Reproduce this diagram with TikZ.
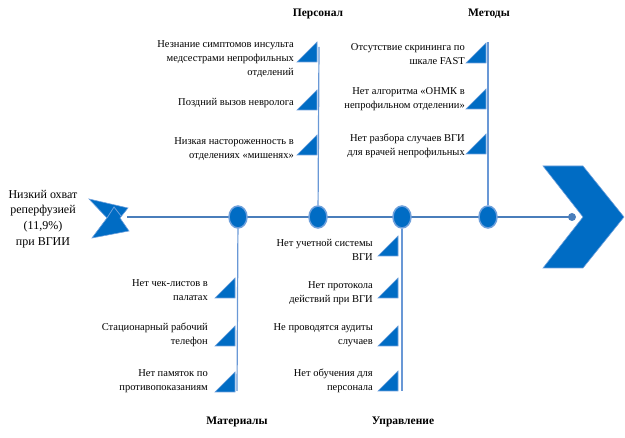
\documentclass[tikz,border=0pt]{standalone}
\usepackage{fontspec}
\setmainfont{Liberation Serif}
\usetikzlibrary{shapes.geometric}
\definecolor{spine}{RGB}{74,126,187}
\definecolor{branch}{RGB}{105,152,214}
\definecolor{dblue}{RGB}{0,108,196}
\definecolor{lblue}{RGB}{110,160,220}
\tikzset{
 item/.style={anchor=east, align=right, inner sep=0pt, font=\fontsize{10.5}{14}\selectfont},
 cat/.style={font=\fontsize{11.5}{14}\selectfont\bfseries, inner sep=0pt},
 bone/.style={draw=spine, line width=2.5pt},
 rib/.style={draw=branch, line width=1.2pt},
 joint/.style={ellipse, fill=dblue, draw=lblue, line width=1.5pt, minimum width=18pt, minimum height=22pt, inner sep=0pt},
 flag/.style={fill=dblue, draw=lblue, line width=0.6pt},
 shapefill/.style={fill=dblue, draw=lblue, line width=0.6pt},
}
\newcommand{\flagtri}[2]{\path[flag] (#1-20,#2) -- (#1,#2-20) -- (#1,#2) -- cycle;}
\begin{document}
\begin{tikzpicture}[x=1pt,y=-1pt]
\useasboundingbox (0,0) rectangle (625,438);
% head (effect side) and tail
\path[shapefill] (89,199) -- (128,208) -- (120,218) -- (129,231) -- (92,238) -- (107,218) -- cycle;
\draw[lblue, line width=0.8pt] (107,218) -- (114,207) -- (121,216);
\path[shapefill] (543,166) -- (583,166) -- (624,217) -- (583,268) -- (543,268) -- (583,217) -- cycle;
% spine
\coordinate (head) at (127,217);
\node[circle, fill=spine, minimum size=8pt, inner sep=0pt] (dot) at (572,217) {};
\draw[bone] (head) -- (dot.center);
% joints
\node[joint] (jMat) at (238,217) {};
\node[joint] (jPer) at (318,217) {};
\node[joint] (jUpr) at (402,217) {};
\node[joint] (jMet) at (488,217) {};
% branch ends
\coordinate (tPer) at (319,47);
\coordinate (tMet) at (488,42);
\coordinate (tMat) at (237,391);
\coordinate (tUpr) at (402,391);
\draw[rib] (jPer) -- (tPer);
\draw[rib] (jMet) -- (tMet);
\draw[rib] (jMat) -- (tMat);
\draw[rib] (jUpr) -- (tUpr);
% effect text
\node[font=\fontsize{12}{15.7}\selectfont, align=center, inner sep=0pt] (effect) at (43,219) {Низкий охват\\реперфузией\\(11,9\%)\\при ВГИИ};
% category headers
\node[cat] (hPer) at (318,14) {Персонал};
\node[cat] (hMet) at (489,14) {Методы};
\node[cat] (hMat) at (237,422) {Материалы};
\node[cat] (hUpr) at (403,422) {Управление};
% Персонал
\flagtri{317}{62}
\flagtri{317}{110}
\flagtri{317}{155}
\node[item] (p1) at (294,59) {Незнание симптомов инсульта\\медсестрами непрофильных\\отделений};
\node[item] (p2) at (294,103) {Поздний вызов невролога};
\node[item] (p3) at (294,149) {Низкая настороженность в\\отделениях «мишенях»};
% Методы
\flagtri{486}{63}
\flagtri{486}{109}
\flagtri{486}{154}
\node[item] (m1) at (465,54) {Отсутствие скрининга по\\шкале FAST};
\node[item] (m2) at (465,99) {Нет алгоритма «ОНМК в\\непрофильном отделении»};
\node[item] (m3) at (465,146) {Нет разбора случаев ВГИ\\для врачей непрофильных};
% Материалы
\flagtri{235}{298}
\flagtri{235}{346}
\flagtri{235}{392}
\node[item] (a1) at (208,290) {Нет чек-листов в\\палатах};
\node[item] (a2) at (208,335) {Стационарный рабочий\\телефон};
\node[item] (a3) at (208,381) {Нет памяток по\\противопоказаниям};
% Управление
\flagtri{398}{256}
\flagtri{398}{298}
\flagtri{398}{346}
\flagtri{398}{391}
\node[item] (u1) at (373,250) {Нет учетной системы\\ВГИ};
\node[item] (u2) at (373,293) {Нет протокола\\действий при ВГИ};
\node[item] (u3) at (373,335) {Не проводятся аудиты\\случаев};
\node[item] (u4) at (373,381) {Нет обучения для\\персонала};
\end{tikzpicture}
\end{document}
